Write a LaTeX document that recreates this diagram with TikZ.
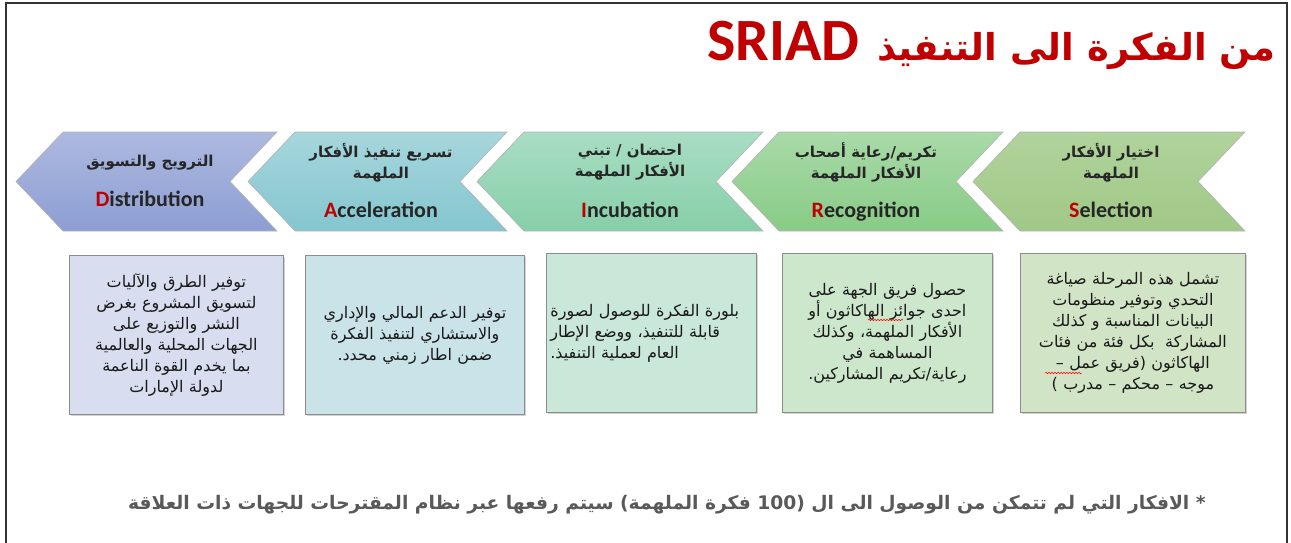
\documentclass[tikz,border=0pt]{standalone}
\usepackage{fontspec}
\setmainfont{Carlito}
\newfontfamily\arabicfont[Script=Arabic]{DejaVu Sans}
\TeXXeTstate=1
\usetikzlibrary{positioning,shadows,decorations.pathmorphing}
\newcommand{\rtl}[1]{\beginR #1\endR}

\definecolor{titlered}{HTML}{C00000}
\definecolor{notegray}{HTML}{595959}
\definecolor{distop}{HTML}{AEB9E0}
\definecolor{disbot}{HTML}{8C9ED3}
\definecolor{acctop}{HTML}{A6D6DC}
\definecolor{accbot}{HTML}{84C6CF}
\definecolor{inctop}{HTML}{A9DDC4}
\definecolor{incbot}{HTML}{86CFA8}
\definecolor{rectop}{HTML}{A9DAA8}
\definecolor{recbot}{HTML}{88CB86}
\definecolor{seltop}{HTML}{B0D39C}
\definecolor{selbot}{HTML}{A0C886}
\definecolor{disbox}{HTML}{D9DDF0}
\definecolor{accbox}{HTML}{C9E3E9}
\definecolor{incbox}{HTML}{C9E8D9}
\definecolor{recbox}{HTML}{CDE7CC}
\definecolor{selbox}{HTML}{D2E4C6}

\tikzstyle{stage} = [draw=gray!60, line width=0.6pt]
\tikzstyle{stagelabel} = [font=\fontsize{22}{24}\selectfont\bfseries, text=black!85, inner sep=0pt, anchor=base]
\tikzstyle{stagear} = [font=\arabicfont\bfseries\fontsize{15}{21}\selectfont, text=black!85, align=center, inner sep=0pt]
\tikzstyle{info} = [draw=gray!90, line width=0.8pt, drop shadow={shadow xshift=2pt, shadow yshift=-2pt, opacity=0.35}, inner sep=4pt, anchor=north west, minimum height=159pt, text=black!90, font=\arabicfont\fontsize{16}{21}\selectfont]
\tikzstyle{spell} = [draw=red, line width=0.5pt, decorate, decoration={snake, amplitude=0.8pt, segment length=3pt}]

\begin{document}
\begin{tikzpicture}[x=1pt, y=-1pt, node distance=4pt]
\useasboundingbox (0,0) rectangle (1291,542);
\draw[line width=1.6pt, black!80] (6,560) -- (6,3) -- (1287,3) -- (1287,560);

% title
\node[anchor=base east, inner sep=0pt, text=titlered] (title) at (1276,60)
  {\fontsize{60}{62}\selectfont\bfseries SRIAD\hspace{18pt}{\arabicfont\fontsize{37}{40}\selectfont\bfseries\rtl{من الفكرة الى التنفيذ}}};

% stages
\shade[stage, top color=distop, bottom color=disbot] (16,181.5) -- (63,132) -- (277,132) -- (230,181.5) -- (277,231) -- (63,231) -- cycle;
\shade[stage, top color=acctop, bottom color=accbot] (248,181.5) -- (295,132) -- (507,132) -- (460,181.5) -- (507,231) -- (295,231) -- cycle;
\shade[stage, top color=inctop, bottom color=incbot] (477,181.5) -- (524,132) -- (763,132) -- (716,181.5) -- (763,231) -- (524,231) -- cycle;
\shade[stage, top color=rectop, bottom color=recbot] (732,181.5) -- (779,132) -- (1003,132) -- (956,181.5) -- (1003,231) -- (779,231) -- cycle;
\shade[stage, top color=seltop, bottom color=selbot] (973,181.5) -- (1020,132) -- (1245,132) -- (1198,181.5) -- (1245,231) -- (1020,231) -- cycle;

\node[stagelabel] (distribution) at (150,206) {\textcolor{titlered}{D}istribution};
\node[stagear] (distributionar) at (150,163) {\rtl{الترويج والتسويق}};
\node[stagelabel] (acceleration) at (381,217) {\textcolor{titlered}{A}cceleration};
\node[stagear] (accelerationar) at (381,162.5) {\rtl{تسريع تنفيذ الأفكار}\\\rtl{الملهمة}};
\node[stagelabel] (incubation) at (630,217) {\textcolor{titlered}{I}ncubation};
\node[stagear] (incubationar) at (630,162.5) {\rtl{احتضان / تبني}\\\rtl{الأفكار الملهمة}};
\node[stagelabel] (recognition) at (866,217) {\textcolor{titlered}{R}ecognition};
\node[stagear] (recognitionar) at (866,162.5) {\rtl{تكريم/رعاية أصحاب}\\\rtl{الأفكار الملهمة}};
\node[stagelabel] (selection) at (1111,217) {\textcolor{titlered}{S}election};
\node[stagear] (selectionar) at (1111,162.5) {\rtl{اختيار الأفكار}\\\rtl{الملهمة}};

% descriptions
\node[info, fill=disbox, text width=206pt, align=center] (distributionbox) at (69,255) {
  \rtl{توفير الطرق والآليات}\\
  \rtl{لتسويق المشروع بغرض}\\
  \rtl{النشر والتوزيع على}\\
  \rtl{الجهات المحلية والعالمية}\\
  \rtl{بما يخدم القوة الناعمة}\\
  \rtl{لدولة الإمارات}};
\node[info, fill=accbox, text width=211pt, align=center] (accelerationbox) at (305,255) {
  \rtl{توفير الدعم المالي والإداري}\\
  \rtl{والاستشاري لتنفيذ الفكرة}\\
  \rtl{ضمن اطار زمني محدد.}};
\node[info, fill=incbox, text width=202pt, align=left] (incubationbox) at (546,253) {
  \rtl{بلورة الفكرة للوصول لصورة}\\
  \rtl{قابلة للتنفيذ، ووضع الإطار}\\
  \rtl{العام لعملية التنفيذ.}};
\node[info, fill=recbox, text width=202pt, align=center] (recognitionbox) at (782,253) {
  \rtl{حصول فريق الجهة على}\\
  \rtl{احدى جوائز الهاكاثون أو}\\
  \rtl{الأفكار الملهمة، وكذلك}\\
  \rtl{المساهمة في}\\
  \rtl{رعاية/تكريم المشاركين.}};
\node[info, fill=selbox, text width=217pt, align=center] (selectionbox) at (1020,253) {
  \rtl{تشمل هذه المرحلة صياغة}\\
  \rtl{التحدي وتوفير منظومات}\\
  \rtl{البيانات المناسبة و كذلك}\\
  \rtl{المشاركة\ \ بكل فئة من فئات}\\
  \rtl{الهاكاثون (فريق عمل –}\\
  \rtl{موجه – محكم – مدرب )}};

% spelling marks
\draw[spell] (868,320) -- (903,320);
\draw[spell] (1045,373) -- (1082,373);

% note
\node[anchor=east, inner sep=0pt, text=notegray, font=\arabicfont\bfseries\fontsize{18.7}{20}\selectfont] (note) at (1206,505)
  {\rtl{* الافكار التي لم تتمكن من الوصول الى ال (100 فكرة الملهمة) سيتم رفعها عبر نظام المقترحات للجهات ذات العلاقة}};
\end{tikzpicture}
\end{document}
